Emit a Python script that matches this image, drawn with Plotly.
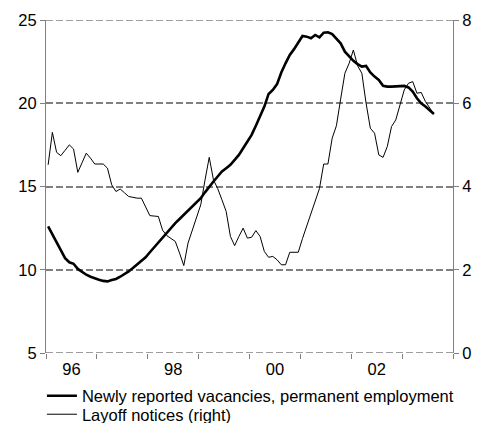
import plotly.graph_objects as go

# monthly data, Jan 1996 .. Aug 2003
start_year = 1996
vacancies = [12.60, 12.10, 11.65, 11.15, 10.70, 10.45, 10.36, 10.05, 9.85, 9.70, 9.58, 9.47,
             9.40, 9.33, 9.30, 9.38, 9.45, 9.58, 9.72, 9.90, 10.10, 10.30, 10.55, 10.75,
             11.05, 11.35, 11.65, 11.95, 12.25, 12.55, 12.80, 13.05, 13.30, 13.50, 13.75, 14.05,
             14.30, 14.65, 15.00, 15.30, 15.60, 15.90, 16.10, 16.30, 16.60, 16.90, 17.30, 17.70,
             18.10, 18.65, 19.20, 19.80, 20.56, 20.80, 21.15, 21.85, 22.40, 22.90, 23.25, 23.65,
             24.04, 24.00, 23.90, 24.10, 23.96, 24.24, 24.26, 24.15, 23.90, 23.60, 23.10, 22.80,
             22.55, 22.35, 22.20, 22.24, 21.85, 21.60, 21.40, 21.05, 21.00, 21.00, 21.02, 21.04,
             21.04, 20.95, 20.70, 20.30, 20.00, 19.80, 19.55, 19.36]
layoffs = [4.52, 5.30, 4.82, 4.74, 4.87, 5.00, 4.90, 4.34, 4.57, 4.80, 4.68, 4.54,
           4.54, 4.54, 4.44, 4.04, 3.88, 3.94, 3.85, 3.76, 3.74, 3.72, 3.72, 3.50,
           3.30, 3.29, 3.28, 2.95, 2.82, 2.75, 2.68, 2.40, 2.10, 2.64, 2.95, 3.28,
           3.56, 4.15, 4.70, 4.16, 3.95, 3.68, 3.40, 2.80, 2.58, 2.80, 3.00, 2.76,
           2.78, 2.94, 2.80, 2.44, 2.30, 2.32, 2.24, 2.12, 2.12, 2.42, 2.42, 2.42,
           2.75, 3.05, 3.30, 3.62, 3.95, 4.54, 4.54, 5.16, 5.46, 6.10, 6.72, 6.96,
           7.28, 6.90, 6.72, 6.00, 5.40, 5.28, 4.76, 4.70, 4.96, 5.44, 5.60, 5.96,
           6.32, 6.48, 6.52, 6.24, 6.26, 6.04, 5.90, 5.74]
x_dates = [start_year + (i + 0.5) / 12 for i in range(len(vacancies))]

year_ticks = list(range(1996, 2005))
label_vals = [1996.5, 1998.5, 2000.5, 2002.5]
label_text = ["96", "98", "00", "02"]
left_ticks = [5, 10, 15, 20, 25]
right_ticks = [0, 2, 4, 6, 8]

FONT = "Liberation Sans, Arial, sans-serif"
GRAY = "#808080"
FS = 16.5

fig = go.Figure()
fig.add_trace(go.Scatter(x=x_dates, y=vacancies, mode="lines",
                         name="Newly reported vacancies, permanent employment",
                         line=dict(color="black", width=2.6), legend="legend"))
fig.add_trace(go.Scatter(x=x_dates, y=layoffs, mode="lines", yaxis="y2",
                         name="Layoff notices (right)",
                         line=dict(color="black", width=1), legend="legend2"))

# dashed grid lines at the range edges (plotly omits edge gridlines)
for yv in (left_ticks[0], left_ticks[-1]):
    fig.add_shape(type="line", xref="paper", x0=0, x1=1, yref="y", y0=yv, y1=yv,
                  line=dict(color=GRAY, width=1.5, dash="7px,3px"), layer="below")

legend_common = dict(xref="paper", yref="container", xanchor="left", yanchor="top",
                     bgcolor="rgba(0,0,0,0)", font=dict(size=FS, family=FONT, color="black"))

fig.update_layout(
    template="none",
    width=485, height=423,
    margin=dict(l=46, r=32, t=20, b=70, autoexpand=False),
    paper_bgcolor="white", plot_bgcolor="white",
    font=dict(family=FONT, size=FS, color="black"),
    showlegend=True,
    legend=dict(x=-0.01, y=1 - 378.5 / 423, **legend_common),
    legend2=dict(x=-0.01, y=1 - 397 / 423, **legend_common),
    xaxis=dict(range=[1996, 2004], tickmode="array", tickvals=label_vals,
               ticktext=label_text, ticks="", showgrid=False, showline=False,
               zeroline=False, automargin=False, ticklabelstandoff=4,
               minor=dict(tickmode="array", tickvals=year_ticks, ticks="outside",
                          ticklen=5, tickcolor=GRAY, tickwidth=1, showgrid=False)),
    yaxis=dict(range=[5, 25], tickmode="array", tickvals=left_ticks,
               ticks="outside", ticklen=5, tickcolor=GRAY, automargin=False,
               showline=True, linecolor=GRAY, linewidth=1,
               showgrid=True, gridcolor=GRAY, gridwidth=1.5, griddash="7px,3px",
               zeroline=False),
    yaxis2=dict(range=[0, 8], tickmode="array", tickvals=right_ticks,
                overlaying="y", side="right", anchor="x", automargin=False,
                ticks="outside", ticklen=5, tickcolor=GRAY,
                showline=True, linecolor=GRAY, linewidth=1,
                showgrid=False, zeroline=False),
)

fig.write_html("out.html", config={"displayModeBar": False},
               post_script="document.body.style.margin='0';document.body.style.padding='0';")
